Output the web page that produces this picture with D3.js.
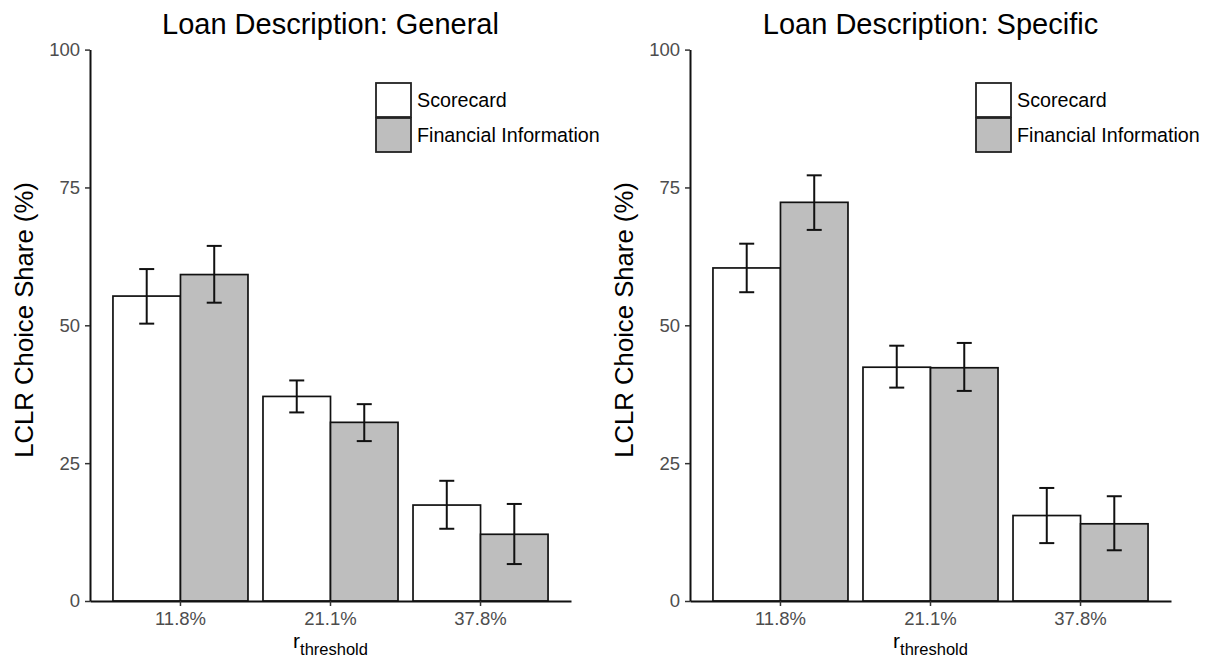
<!DOCTYPE html>
<html><head><meta charset="utf-8">
<script src="https://cdn.jsdelivr.net/npm/d3@7"></script>
<style>body{margin:0;background:#fff}text{font-family:"Liberation Sans",Arial,sans-serif}</style>
</head><body>
<svg id="c" width="1210" height="663"></svg>
<script>
// ---- data ----
const categories = ["11.8%", "21.1%", "37.8%"];
const seriesNames = ["Scorecard", "Financial Information"];
const panelTitles = ["Loan Description: General", "Loan Description: Specific"];
const yTicks = [0, 25, 50, 75, 100];

const generalScorecard = [55.3, 37.1, 17.4];
const generalScorecardLow = [50.3, 34.2, 13.1];
const generalScorecardHigh = [60.2, 40.0, 21.8];
const generalFinancial = [59.2, 32.4, 12.1];
const generalFinancialLow = [54.1, 29.0, 6.7];
const generalFinancialHigh = [64.4, 35.7, 17.6];

const specificScorecard = [60.4, 42.4, 15.5];
const specificScorecardLow = [56.0, 38.7, 10.5];
const specificScorecardHigh = [64.8, 46.3, 20.5];
const specificFinancial = [72.3, 42.3, 14.0];
const specificFinancialLow = [67.3, 38.1, 9.2];
const specificFinancialHigh = [77.2, 46.8, 19.0];

const panels = [
  { title: panelTitles[0], series: [
    { name: seriesNames[0], v: generalScorecard, lo: generalScorecardLow, hi: generalScorecardHigh },
    { name: seriesNames[1], v: generalFinancial, lo: generalFinancialLow, hi: generalFinancialHigh } ] },
  { title: panelTitles[1], series: [
    { name: seriesNames[0], v: specificScorecard, lo: specificScorecardLow, hi: specificScorecardHigh },
    { name: seriesNames[1], v: specificFinancial, lo: specificFinancialLow, hi: specificFinancialHigh } ] }
];
const fills = { "Scorecard": "#ffffff", "Financial Information": "#bebebe" };

// ---- drawing ----
const svg = d3.select("#c");
const pLeft = 90, pRight = 571, pTop = 49.6, pBottom = 601;
const FONT = '"Liberation Sans",Arial,sans-serif';

panels.forEach((p, i) => {
  const g = svg.append("g").attr("transform", `translate(${i * 600},0)`);
  const x = d3.scaleBand().domain(categories).range([pLeft, pRight]).paddingInner(0.1).paddingOuter(0.153);
  const xs = d3.scaleBand().domain(seriesNames).range([0, x.bandwidth()]);
  const y = d3.scaleLinear().domain([0, 100]).range([pBottom, pTop]);

  const rows = [];
  p.series.forEach(s => categories.forEach((c, k) => rows.push({ c, s: s.name, v: s.v[k], lo: s.lo[k], hi: s.hi[k] })));

  g.selectAll("rect.bar").data(rows).join("rect").attr("class", "bar")
    .attr("x", d => x(d.c) + xs(d.s))
    .attr("y", d => y(d.v))
    .attr("width", xs.bandwidth())
    .attr("height", d => y(0) - y(d.v))
    .attr("fill", d => fills[d.s]).attr("stroke", "#111").attr("stroke-width", 1.7);

  const capW = 7.5;
  const cx = d => x(d.c) + xs(d.s) + xs.bandwidth() / 2;
  const eb = g.selectAll("g.eb").data(rows).join("g").attr("class", "eb")
    .attr("stroke", "#111").attr("stroke-width", 2);
  eb.append("line").attr("x1", cx).attr("x2", cx).attr("y1", d => y(d.lo)).attr("y2", d => y(d.hi));
  eb.append("line").attr("x1", d => cx(d) - capW).attr("x2", d => cx(d) + capW).attr("y1", d => y(d.hi)).attr("y2", d => y(d.hi));
  eb.append("line").attr("x1", d => cx(d) - capW).attr("x2", d => cx(d) + capW).attr("y1", d => y(d.lo)).attr("y2", d => y(d.lo));

  const ya = g.append("g").attr("transform", `translate(${pLeft},0)`)
    .call(d3.axisLeft(y).tickValues(yTicks).tickSize(5).tickSizeOuter(0).tickPadding(5));
  const xa = g.append("g").attr("transform", `translate(0,${pBottom})`)
    .call(d3.axisBottom(x).tickSize(5).tickSizeOuter(0).tickPadding(6));
  [ya, xa].forEach(a => {
    a.attr("font-size", null).attr("font-family", null);
    a.select(".domain").attr("stroke", "#111").attr("stroke-width", 2);
    a.selectAll(".tick line").attr("stroke", "#333").attr("stroke-width", 1.5);
    a.selectAll(".tick text").attr("fill", "#4d4d4d").style("font-family", FONT).style("font-size", "18.5px");
  });

  g.append("text").attr("x", (pLeft + pRight) / 2).attr("y", 34).attr("text-anchor", "middle")
    .style("font-size", "29px").attr("fill", "#000").text(p.title);

  g.append("text").attr("transform", `translate(33,320) rotate(-90)`).attr("text-anchor", "middle")
    .style("font-size", "25.7px").attr("fill", "#000").text("LCLR Choice Share (%)");

  const xl = g.append("text").attr("x", (pLeft + pRight) / 2).attr("y", 647.5).attr("text-anchor", "middle").attr("fill", "#000");
  xl.append("tspan").style("font-size", "21px").text("r");
  xl.append("tspan").style("font-size", "16.5px").attr("dy", 7).text("threshold");

  const lg = g.append("g").attr("transform", "translate(376,83)");
  seriesNames.forEach((n, k) => {
    lg.append("rect").attr("x", 0).attr("y", k * 35).attr("width", 35).attr("height", 34)
      .attr("fill", fills[n]).attr("stroke", "#222").attr("stroke-width", 1.8);
    lg.append("text").attr("x", 41).attr("y", k * 35 + 17).attr("dy", "0.35em")
      .style("font-size", "19.7px").attr("fill", "#000").text(n);
  });
});
</script>
</body></html>
